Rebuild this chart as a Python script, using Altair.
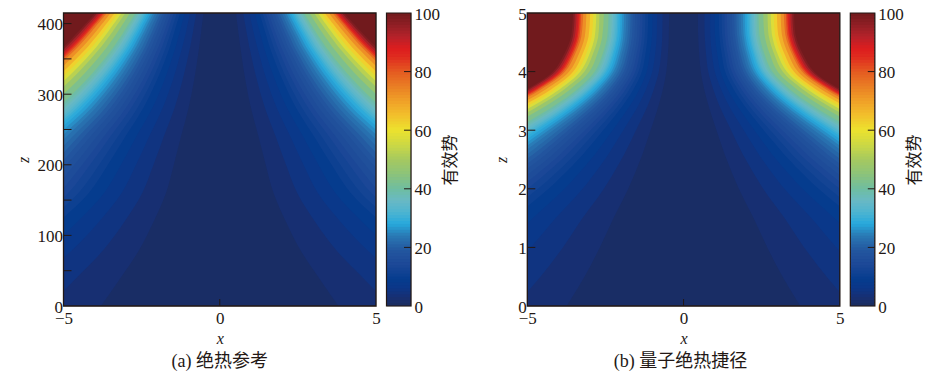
import altair as alt
import pandas as pd

INK = "#231815"
SERIF = "Liberation Serif, Noto Sans CJK SC"

# contour levels of the effective potential
levels = [2, 4, 6, 8, 10, 11.5, 13, 14.5, 16, 17.5, 19, 20.5, 22, 23.5, 25, 26.5, 28, 29.5, 31, 32.5, 34, 35.5, 37, 38.5,
          40, 45, 50, 55, 60, 65, 70, 75, 80, 84, 88, 92, 96, 100]

# colour bar stops
cmap_levels = [0, 3, 6, 9, 14, 19, 24, 28, 32, 36, 40, 45, 50, 55, 60, 65, 70, 75, 80, 85, 88, 92, 96, 100]
cmap_colors = ["#1a2c5e", "#172f72", "#0c3688", "#053c8e", "#1c4897", "#23569f", "#2a79b4", "#27a9dc",
               "#4db4d0", "#69b9c4", "#6fbda0", "#8cc37a", "#a6c95f", "#ccd844", "#ece22e", "#f2c02c",
               "#f0a028", "#e97e24", "#e45a21", "#df2b1f", "#dc1d1e", "#b4222a", "#8f1f25", "#711a1d"]

# panel (a): |x| of each contour level, one row per z; contours not listed lie far outside the plot
OFF_PLOT = 9
z_a = [0, 40, 80, 120, 160, 200, 240, 280, 320, 360, 390, 415]
x_a = [
 [3.80,5.48,6.94,8.18],
 [3.17,4.58,5.80,6.83,7.75,8.36,8.97],
 [2.57,3.71,4.70,5.54,6.29,6.78,7.28,7.72,8.17,8.61],
 [2.11,3.04,3.85,4.54,5.14,5.55,5.95,6.32,6.68,7.05,7.37,7.70,8.02,8.34,8.63,8.91],
 [1.72,2.48,3.14,3.70,4.19,4.52,4.85,5.15,5.45,5.74,6.01,6.27,6.53,6.80,7.03,7.26,7.49,7.69,7.85,8.02,8.15,8.35,8.51,8.71,8.91],
 [1.47,2.12,2.68,3.16,3.58,3.86,4.15,4.40,4.65,4.91,5.13,5.36,5.58,5.81,6.01,6.20,6.40,6.57,6.71,6.85,6.97,7.13,7.28,7.44,7.61,8.09,8.52,8.85],
 [1.24,1.79,2.26,2.67,3.02,3.26,3.50,3.71,3.93,4.14,4.33,4.52,4.71,4.90,5.07,5.24,5.40,5.55,5.66,5.78,5.88,6.02,6.14,6.28,6.43,6.83,7.19,7.47,7.74,8.00,8.31,8.59,8.76,8.88],
 [1.00,1.45,1.83,2.16,2.45,2.64,2.84,3.01,3.18,3.36,3.51,3.67,3.82,3.98,4.11,4.25,4.38,4.50,4.59,4.69,4.77,4.88,4.98,5.10,5.21,5.54,5.83,6.06,6.27,6.48,6.74,6.97,7.10,7.20,7.30,7.41,7.55,7.68],
 [.82,1.19,1.50,1.77,2.01,2.16,2.32,2.46,2.61,2.75,2.88,3.00,3.13,3.25,3.37,3.48,3.59,3.68,3.76,3.84,3.90,4.00,4.08,4.17,4.27,4.53,4.77,4.96,5.14,5.31,5.51,5.70,5.81,5.89,5.97,6.07,6.18,6.29],
 [.68,.98,1.24,1.46,1.65,1.78,1.91,2.03,2.15,2.26,2.37,2.47,2.57,2.68,2.77,2.86,2.95,3.03,3.09,3.16,3.21,3.29,3.35,3.43,3.51,3.73,3.93,4.08,4.23,4.37,4.54,4.69,4.78,4.85,4.91,4.99,5.08,5.17],
 [.59,.85,1.07,1.27,1.44,1.55,1.66,1.76,1.86,1.97,2.06,2.15,2.24,2.33,2.41,2.49,2.57,2.63,2.69,2.75,2.79,2.86,2.92,2.98,3.05,3.24,3.41,3.55,3.67,3.80,3.94,4.08,4.16,4.21,4.27,4.34,4.42,4.50],
 [.52,.75,.95,1.12,1.27,1.37,1.47,1.56,1.65,1.74,1.82,1.90,1.98,2.06,2.13,2.20,2.27,2.33,2.38,2.43,2.47,2.53,2.58,2.64,2.70,2.87,3.02,3.14,3.25,3.36,3.49,3.61,3.68,3.73,3.78,3.84,3.91,3.98],
]

# panel (b)
z_b = [0, .5, 1, 1.5, 2, 2.5, 2.8, 3.1, 3.4, 3.7, 4, 4.3, 4.6, 5]
x_b = [
 [3.74,5.40,6.84,8.06],
 [3.17,4.58,5.80,6.83,7.75,8.36,8.97],
 [2.68,3.86,4.89,5.77,6.54,7.06,7.57,8.03,8.50,8.96],
 [2.24,3.23,4.09,4.82,5.46,5.89,6.32,6.71,7.10,7.48,7.83,8.17,8.51,8.86],
 [1.77,2.55,3.23,3.81,4.32,4.66,5.00,5.30,5.61,5.92,6.19,6.46,6.73,7.00,7.24,7.48,7.72,7.92,8.09,8.26,8.40,8.60,8.77,8.98],
 [1.38,1.99,2.52,2.97,3.37,3.63,3.90,4.13,4.37,4.61,4.82,5.04,5.25,5.46,5.64,5.83,6.02,6.17,6.31,6.44,6.55,6.70,6.84,7.00,7.16,7.61,8.00,8.32,8.61,8.90],
 [1.18,1.70,2.16,2.54,2.88,3.11,3.34,3.54,3.75,3.95,4.13,4.31,4.49,4.68,4.84,4.99,5.15,5.29,5.40,5.52,5.61,5.74,5.86,5.99,6.13,6.51,6.86,7.13,7.38,7.63,7.92,8.19,8.35,8.47,8.58,8.72,8.88,9.03],
 [.99,1.43,1.81,2.13,2.41,2.60,2.79,2.96,3.14,3.31,3.46,3.61,3.76,3.91,4.05,4.18,4.31,4.43,4.52,4.62,4.69,4.81,4.90,5.01,5.13,5.45,5.74,5.97,6.18,6.38,6.63,6.86,6.99,7.09,7.18,7.30,7.43,7.56],
 [.81,1.16,1.47,1.74,1.97,2.12,2.28,2.42,2.56,2.70,2.82,2.95,3.07,3.19,3.30,3.41,3.52,3.61,3.69,3.77,3.83,3.92,4.00,4.09,4.19,4.45,4.68,4.87,5.04,5.21,5.41,5.60,5.70,5.78,5.86,5.95,6.06,6.17],
 [.66,.95,1.20,1.41,1.60,1.73,1.85,1.97,2.08,2.19,2.29,2.39,2.49,2.60,2.68,2.77,2.86,2.94,3.00,3.06,3.11,3.19,3.25,3.33,3.40,3.62,3.81,3.96,4.10,4.23,4.40,4.55,4.64,4.70,4.76,4.84,4.93,5.01],
 [.55,.79,1.00,1.18,1.33,1.44,1.54,1.64,1.73,1.83,1.91,2.00,2.08,2.16,2.24,2.31,2.38,2.45,2.50,2.55,2.59,2.66,2.71,2.77,2.84,3.01,3.17,3.30,3.41,3.53,3.66,3.79,3.86,3.92,3.97,4.03,4.11,4.18],
 [.50,.72,.91,1.08,1.22,1.32,1.41,1.50,1.58,1.67,1.75,1.82,1.90,1.98,2.04,2.11,2.18,2.24,2.28,2.33,2.37,2.43,2.48,2.53,2.59,2.76,2.90,3.01,3.12,3.23,3.35,3.47,3.53,3.58,3.63,3.69,3.75,3.82],
 [.47,.68,.86,1.01,1.15,1.24,1.33,1.41,1.49,1.57,1.65,1.72,1.79,1.86,1.93,1.99,2.05,2.11,2.15,2.20,2.24,2.29,2.33,2.39,2.44,2.60,2.73,2.84,2.94,3.04,3.16,3.27,3.33,3.38,3.42,3.48,3.54,3.60],
 [.46,.67,.85,1.00,1.13,1.22,1.31,1.39,1.47,1.55,1.62,1.69,1.76,1.83,1.90,1.96,2.02,2.07,2.12,2.16,2.20,2.25,2.30,2.35,2.40,2.55,2.69,2.79,2.89,2.99,3.11,3.21,3.28,3.32,3.36,3.42,3.48,3.54],
]

x_ticks = [-5, 0, 5]
z_ticks_a = [0, 50, 100, 150, 200, 250, 300, 350, 400]
z_ticks_b = [0, 1, 2, 3, 4, 5]
cb_ticks = [0, 20, 40, 60, 80, 100]
cb_marks = [20, 40, 60, 80]
cb_steps = list(range(0, 100))

W, H, CBW = 312.5, 293, 24.5
color_scale = alt.Scale(domain=cmap_levels, range=cmap_colors, interpolate="rgb")


def contour_frame(zs, rows):
    recs = []
    for j in range(len(levels) - 1, -1, -1):
        band = (levels[j] + (levels[j - 1] if j else 0)) / 2
        for z, row in zip(zs, rows):
            xv = row[j] if j < len(row) else OFF_PLOT
            recs.append({"level": levels[j], "band": band, "z": z, "x": xv, "xn": -xv})
    return pd.DataFrame(recs)


def panel(zs, rows, z_ticks, zmax, caption, cap_dx, tpad, z_marks):
    xs = alt.Scale(domain=[-5, 5], nice=False, zero=False)
    ys = alt.Scale(domain=[0, zmax], nice=False, zero=False)
    base = alt.Chart(pd.DataFrame({"a": [0]})).mark_rect(color="#711a1d").encode(
        x=alt.value(0), x2=alt.value(W), y=alt.value(0), y2=alt.value(H))
    area = alt.Chart(contour_frame(zs, rows)).mark_area(
        orient="horizontal", interpolate="catmull-rom", clip=True
    ).encode(
        x=alt.X("xn:Q", scale=xs, axis=alt.Axis(
            values=x_ticks, format="d", title="x", tickSize=0, domain=False, grid=False,
            labelFont=SERIF, labelFontSize=17, labelColor=INK, labelPadding=4, labelFlush=False,
            labelBound=False, labelOverlap=False,
            titleFont=SERIF, titleFontSize=16, titleFontStyle="italic", titleFontWeight="normal",
            titleColor=INK, titlePadding=4)),
        x2="x:Q",
        y=alt.Y("z:Q", scale=ys, axis=alt.Axis(
            values=z_ticks, format="d", title="z", tickSize=0, domain=False, grid=False,
            labelFont=SERIF, labelFontSize=17, labelColor=INK, labelPadding=1, labelFlush=False,
            labelBound=False, labelOverlap=False, labelOffset=1,
            titleFont=SERIF, titleFontSize=16, titleFontStyle="italic", titleFontWeight="normal",
            titleColor=INK, titlePadding=tpad)),
        color=alt.Color("band:Q", scale=color_scale, legend=None),
        detail="level:N",
    )
    yt = alt.Chart(pd.DataFrame({"z": z_marks})).mark_rule(color=INK, strokeWidth=1).encode(
        y=alt.Y("z:Q", scale=ys), x=alt.value(0), x2=alt.value(8))
    xt = alt.Chart(pd.DataFrame({"x": [0]})).mark_rule(color=INK, strokeWidth=1).encode(
        x=alt.X("x:Q", scale=xs), y=alt.value(H), y2=alt.value(H - 7))
    frame = alt.Chart(pd.DataFrame({"a": [0]})).mark_rect(
        fillOpacity=0, stroke=INK, strokeWidth=1.3
    ).encode(x=alt.value(0), x2=alt.value(W), y=alt.value(0), y2=alt.value(H))
    return alt.layer(base, area, yt, xt, frame).properties(
        width=W, height=H,
        title=alt.TitleParams(caption, orient="bottom", anchor="middle", dx=cap_dx, offset=7,
                              font=SERIF, fontSize=18, fontWeight="normal", color=INK),
    )


def colorbar():
    ys = alt.Scale(domain=[0, 100], nice=False, zero=False)
    df = pd.DataFrame({"lo": cb_steps})
    df["hi"] = [min(v + 1.5, 100) for v in cb_steps]
    df["mid"] = [v + 0.5 for v in cb_steps]
    bars = alt.Chart(df).mark_rect().encode(
        y=alt.Y("lo:Q", scale=ys, axis=alt.Axis(
            orient="right", values=cb_ticks, format="d", title="有效势", tickSize=0, domain=False, grid=False,
            labelFont=SERIF, labelFontSize=17, labelColor=INK, labelPadding=3, labelFlush=False,
            labelBound=False, labelOverlap=False, labelOffset=1,
            titleFont=SERIF, titleFontSize=17, titleFontWeight="normal", titleColor=INK,
            titleAngle=270, titlePadding=20)),
        y2="hi:Q",
        x=alt.value(0), x2=alt.value(CBW),
        color=alt.Color("mid:Q", scale=color_scale, legend=None),
    )
    ticks = alt.Chart(pd.DataFrame({"v": cb_marks})).mark_rule(color=INK, strokeWidth=1).encode(
        y=alt.Y("v:Q", scale=ys), x=alt.value(CBW - 7), x2=alt.value(CBW))
    frame = alt.Chart(pd.DataFrame({"a": [0]})).mark_rect(
        fillOpacity=0, stroke=INK, strokeWidth=1.2
    ).encode(x=alt.value(0), x2=alt.value(CBW), y=alt.value(0), y2=alt.value(H))
    return alt.layer(bars, ticks, frame).properties(width=CBW, height=H)


left = alt.hconcat(panel(z_a, x_a, z_ticks_a, 415, "(a) 绝热参考", 0, 6, [50, 100, 150, 200, 250, 300, 350, 400]),
                   colorbar(), spacing=10, bounds="flush")
right = alt.hconcat(panel(z_b, x_b, z_ticks_b, 5, "(b) 量子绝热捷径", -3, 8, [1, 2, 3, 4]),
                    colorbar(), spacing=10, bounds="flush")

chart = alt.hconcat(left, right, spacing=33.8, padding={"left": 6.5, "top": -4, "right": 0, "bottom": 0}
).resolve_scale(color="independent").configure_view(stroke=None).configure(background="white")

chart.save("out.html", embed_options={"renderer": "svg", "actions": False})
